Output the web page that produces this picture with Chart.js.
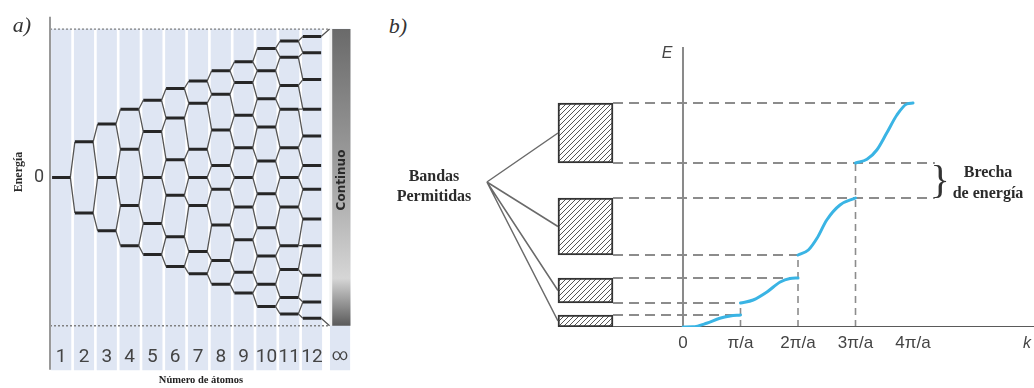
<!DOCTYPE html>
<html>
<head>
<meta charset="utf-8">
<script src="https://cdn.jsdelivr.net/npm/chart.js@4.4.1/dist/chart.umd.min.js"></script>
<style>
  html, body { margin: 0; padding: 0; background: #fff; }
  #wrap { position: relative; width: 1034px; height: 388px; overflow: hidden; }
  canvas { position: absolute; top: 0; }
  #chartA { left: 0; }
  #chartB { left: 470px; }
  .lbl { position: absolute; transform: translate(-50%, -50%); white-space: nowrap; color: #2b2b2b; line-height: 1; }
  .ser { font-family: "Liberation Serif", serif; font-weight: bold; font-size: 16px; }
  .it { font-family: "Liberation Serif", serif; font-style: italic; font-size: 22px; color: #333; }
  .sans { font-family: "Liberation Sans", sans-serif; font-style: italic; font-size: 16px; color: #444; }
</style>
</head>
<body>
<div id="wrap">
  <canvas id="chartA" width="352" height="388"></canvas>
  <canvas id="chartB" width="564" height="388"></canvas>

  <div class="lbl it" style="left:22px;top:25px;">a)</div>
  <div class="lbl ser" style="left:18px;top:172px;font-size:12px;transform:translate(-50%,-50%) rotate(-90deg);">Energía</div>
  <div class="lbl" style="left:341px;top:180px;font-family:'DejaVu Sans',sans-serif;font-weight:bold;font-size:12px;color:#2a2a2a;transform:translate(-50%,-50%) rotate(-90deg);">Continuo</div>

  <div class="lbl it" style="left:398px;top:26px;">b)</div>
  <div class="lbl sans" style="left:667px;top:53px;">E</div>
  <div class="lbl sans" style="left:1027px;top:343px;">k</div>
  <div class="lbl ser" style="left:434px;top:176px;">Bandas</div>
  <div class="lbl ser" style="left:434px;top:196px;">Permitidas</div>
  <div class="lbl" style="left:940px;top:180px;font-family:'Liberation Serif',serif;font-size:40px;color:#333;">}</div>
  <div class="lbl ser" style="left:988px;top:172px;">Brecha</div>
  <div class="lbl ser" style="left:988px;top:193px;">de energía</div>
</div>

<script>
// ---------------- DATA: a) levels vs number of atoms ----------------

const atomCounts = [1, 2, 3, 4, 5, 6, 7, 8, 9, 10, 11, 12];
const atomLabels = ["1", "2", "3", "4", "5", "6", "7", "8", "9", "10", "11", "12", "∞"];

// energy of each level (continuum edges at +1 / -1)
const levels = [
  [0],
  [0.24, -0.24],
  [0.36, 0, -0.36],
  [0.46, 0.19, -0.19, -0.46],
  [0.52, 0.31, 0, -0.31, -0.52],
  [0.60, 0.40, 0.12, -0.12, -0.40, -0.60],
  [0.65, 0.50, 0.19, 0, -0.19, -0.50, -0.65],
  [0.72, 0.56, 0.32, 0.08, -0.08, -0.32, -0.56, -0.72],
  [0.78, 0.64, 0.42, 0.20, 0, -0.20, -0.42, -0.64, -0.78],
  [0.87, 0.72, 0.53, 0.34, 0.11, -0.11, -0.34, -0.53, -0.72, -0.87],
  [0.92, 0.81, 0.62, 0.46, 0.20, 0, -0.20, -0.46, -0.62, -0.81, -0.92],
  [0.95, 0.84, 0.66, 0.46, 0.28, 0.08, -0.08, -0.28, -0.46, -0.66, -0.84, -0.95]
];

const continuumX = 13.23;
const continuumRange = [-1, 1];

// ---------------- DATA: b) bands vs k ----------------

const kTickValues = [0, 1, 2, 3, 4];
const kTickLabels = ["0", "π/a", "2π/a", "3π/a", "4π/a"];

const bandLow = [0, 2.4, 7.2, 16.4];
const bandHigh = [1.2, 4.9, 12.9, 22.4];

const curveK = [
  [0, 0.17, 0.41, 0.64, 0.82, 1.0],
  [1.0, 1.22, 1.46, 1.69, 1.86, 2.0],
  [2.0, 2.18, 2.33, 2.5, 2.73, 3.0],
  [3.0, 3.2, 3.37, 3.54, 3.72, 3.89, 4.0]
];
const curveE = [
  [0, 0.02, 0.37, 0.87, 1.1, 1.2],
  [2.4, 2.7, 3.5, 4.5, 4.85, 4.9],
  [7.2, 7.7, 8.87, 10.7, 12.2, 12.9],
  [16.4, 16.77, 17.7, 19.37, 21.2, 22.3, 22.4]
];

// dashed guide lines: energy and where each one stops
const guideE = [1.2, 2.4, 4.9, 7.2, 12.9, 16.4, 22.4];
const guideEndK = [1, 1, 2, 2, 4.38, 4.38, 4];
// vertical dashed lines at the zone edges
const zoneK = [1, 2, 3];
const zoneTopE = [2.4, 7.2, 16.4];

const boxLeftK = -2.174;
const boxRightK = -1.217;
const labelAnchor = { x: -3.41, y: 14.5 };

// ---------------- HELPERS ----------------

function lineSet(points, color, width, dash, order) {
  return {
    type: "line",
    data: points,
    borderColor: color,
    borderWidth: width,
    borderDash: dash || [],
    borderCapStyle: "butt",
    pointRadius: 0,
    fill: false,
    tension: 0,
    spanGaps: false,
    order: order
  };
}

function hatch() {
  const c = document.createElement("canvas");
  c.width = 5; c.height = 5;
  const g = c.getContext("2d");
  g.fillStyle = "#fff";
  g.fillRect(0, 0, 5, 5);
  g.strokeStyle = "#555";
  g.lineWidth = 1;
  g.beginPath();
  g.moveTo(0, 5); g.lineTo(5, 0);
  g.moveTo(-1, 1); g.lineTo(1, -1);
  g.moveTo(4, 6); g.lineTo(6, 4);
  g.stroke();
  return g.createPattern(c, "repeat");
}

const BREAK = (x) => ({ x: x, y: null });

// ---------------- CHART A ----------------

const HW = 0.4;        // half width of a level line
const BAR_HW = 0.46;   // half width of continuum bar
const X_MIN_A = 0.509;
const Y_MAX_A = 1.083;
const Y_MIN_A = -1.15;   // bottom of the plot area
const STRIPE_MIN = -1.297; // stripes run down behind the numbers

const levelPts = [];
levels.forEach((ls, i) => {
  const n = atomCounts[i];
  ls.forEach(e => {
    levelPts.push({ x: n - HW, y: e }, { x: n + HW, y: e }, BREAK(n + HW));
  });
});

const linkPts = [];
for (let i = 0; i < levels.length - 1; i++) {
  const n = atomCounts[i];
  levels[i].forEach((e, j) => {
    linkPts.push({ x: n + HW, y: e }, { x: n + 1 - HW, y: levels[i + 1][j] }, BREAK(n + 1 - HW));
    linkPts.push({ x: n + HW, y: e }, { x: n + 1 - HW, y: levels[i + 1][j + 1] }, BREAK(n + 1 - HW));
  });
}
const last = levels[levels.length - 1];
const lastN = atomCounts[atomCounts.length - 1];
linkPts.push({ x: lastN + HW, y: last[0] }, { x: continuumX - BAR_HW, y: continuumRange[1] }, BREAK(continuumX));
linkPts.push({ x: lastN + HW, y: last[last.length - 1] }, { x: continuumX - BAR_HW, y: continuumRange[0] }, BREAK(continuumX));

const stripeX = atomCounts.concat([continuumX]);

function continuumFill(c) {
  const area = c.chart.chartArea;
  const ys = c.chart.scales.y;
  if (!area || !ys) return "#999";
  const top = ys.getPixelForValue(continuumRange[1]);
  const bot = ys.getPixelForValue(continuumRange[0]);
  if (!isFinite(top) || !isFinite(bot)) return "#999";
  const g = c.chart.ctx.createLinearGradient(0, top, 0, bot);
  g.addColorStop(0, "#6a6a6a");
  g.addColorStop(0.45, "#9c9c9c");
  g.addColorStop(0.84, "#d6d6d6");
  g.addColorStop(1, "#5a5a5a");
  return g;
}

const axisA = lineSet([{ x: X_MIN_A, y: STRIPE_MIN }, { x: X_MIN_A, y: Y_MAX_A }], "#999", 2, [], 0);
axisA.clip = false;

new Chart(document.getElementById("chartA"), {
  type: "bar",
  data: {
    datasets: [
      axisA,
      lineSet(levelPts, "#262626", 3, [], 1),
      lineSet(linkPts, "#555", 1.3, [], 2),
      lineSet([{ x: X_MIN_A, y: 1 }, { x: continuumX - BAR_HW, y: 1 }], "#808080", 1.3, [2, 2], 3),
      lineSet([{ x: X_MIN_A, y: -1 }, { x: continuumX - BAR_HW, y: -1 }], "#808080", 1.3, [2, 2], 3),
      {
        type: "bar",
        data: [{ x: continuumX, y: continuumRange }],
        barThickness: 21,
        grouped: false,
        borderSkipped: false,
        borderWidth: { left: 3, right: 0, top: 0, bottom: 0 },
        borderColor: "#f2f2f2",
        backgroundColor: continuumFill,
        order: 5
      },
      {
        type: "bar",
        data: stripeX.map(x => ({ x: x, y: [STRIPE_MIN, 1] })),
        barThickness: 19.5,
        grouped: false,
        backgroundColor: "#dfe6f3",
        borderWidth: 0,
        clip: false,
        order: 10
      }
    ]
  },
  options: {
    responsive: false,
    animation: false,
    events: [],
    layout: { padding: { top: 13, left: 0, right: 0, bottom: 0 } },
    plugins: { legend: { display: false }, tooltip: { enabled: false } },
    scales: {
      x: {
        type: "linear",
        offset: false,
        min: X_MIN_A,
        max: 13.754,
        grid: { display: false, drawTicks: false },
        border: { display: false },
        afterBuildTicks: (s) => { s.ticks = stripeX.map(v => ({ value: v })); },
        afterFit: (s) => { s.height = 40; },
        ticks: {
          z: 1,
          autoSkip: false,
          maxRotation: 0,
          padding: -2,
          color: "#444",
          font: (c) => ({
            family: "Roboto, 'Liberation Sans', sans-serif",
            size: c.index === atomLabels.length - 1 ? 16 : 19
          }),
          callback: (v, i) => atomLabels[i]
        },
        title: {
          display: true,
          text: "Número de átomos",
          color: "#222",
          padding: { top: 0, bottom: 1 },
          font: { family: "'Liberation Serif', serif", size: 10.5, weight: "bold" }
        }
      },
      y: {
        min: Y_MIN_A,
        max: Y_MAX_A,
        grid: { display: false, drawTicks: false },
        border: { display: false },
        afterBuildTicks: (s) => { s.ticks = [{ value: 0 }]; },
        afterFit: (s) => { s.width = 50; },
        ticks: {
          padding: 6,
          color: "#444",
          font: { family: "Roboto, 'Liberation Sans', sans-serif", size: 18 },
          callback: () => "0"
        }
      }
    }
  }
});

// ---------------- CHART B ----------------

const boxes = bandLow.map((lo, i) => ({ x: (boxLeftK + boxRightK) / 2, y: [lo, bandHigh[i]] }));

const curveSets = curveK.map((ks, i) =>
  Object.assign(lineSet(ks.map((k, j) => ({ x: k, y: curveE[i][j] })), "#3ab4e4", 3, [], 1), {
    cubicInterpolationMode: "monotone",
    borderCapStyle: "round"
  })
);

const guidePts = [];
guideE.forEach((e, i) => {
  guidePts.push({ x: boxRightK, y: e }, { x: guideEndK[i], y: e }, BREAK(guideEndK[i]));
});
const zonePts = [];
zoneK.forEach((k, i) => {
  zonePts.push({ x: k, y: 0 }, { x: k, y: zoneTopE[i] }, BREAK(k));
});

const pointerPts = [];
bandLow.forEach((lo, i) => {
  pointerPts.push(labelAnchor, { x: boxLeftK, y: (lo + bandHigh[i]) / 2 }, BREAK(boxLeftK));
});

new Chart(document.getElementById("chartB"), {
  type: "bar",
  data: {
    datasets: curveSets.concat([
      lineSet([{ x: 0, y: 0 }, { x: 0, y: 28 }], "#8a8a8a", 2, [], 2),
      lineSet([{ x: boxRightK, y: 0 }, { x: 6.104, y: 0 }], "#5a5a5a", 2, [], 2),
      lineSet(guidePts, "#8c8c8c", 2, [10, 6], 3),
      lineSet(zonePts, "#8c8c8c", 1.6, [7, 5], 3),
      lineSet(pointerPts, "#6a6a6a", 1.5, [], 4),
      {
        type: "bar",
        data: boxes,
        barThickness: 55,
        grouped: false,
        borderSkipped: false,
        borderWidth: 2,
        borderColor: "#333",
        backgroundColor: hatch(),
        order: 5
      }
    ])
  },
  options: {
    responsive: false,
    animation: false,
    events: [],
    layout: { padding: { top: 47, left: 0, right: 0, bottom: 0 } },
    plugins: { legend: { display: false }, tooltip: { enabled: false } },
    scales: {
      x: {
        type: "linear",
        offset: false,
        min: -3.704,
        max: 6.104,
        grid: { display: false, drawTicks: false },
        border: { display: false },
        afterBuildTicks: (s) => { s.ticks = kTickValues.map(v => ({ value: v })); },
        afterFit: (s) => { s.height = 61; },
        ticks: {
          autoSkip: false,
          maxRotation: 0,
          padding: 6,
          color: "#444",
          font: { family: "'Liberation Sans', sans-serif", size: 17 },
          callback: (v, i) => kTickLabels[i]
        }
      },
      y: {
        display: false,
        min: 0,
        max: 28
      }
    }
  }
});
</script>
</body>
</html>
